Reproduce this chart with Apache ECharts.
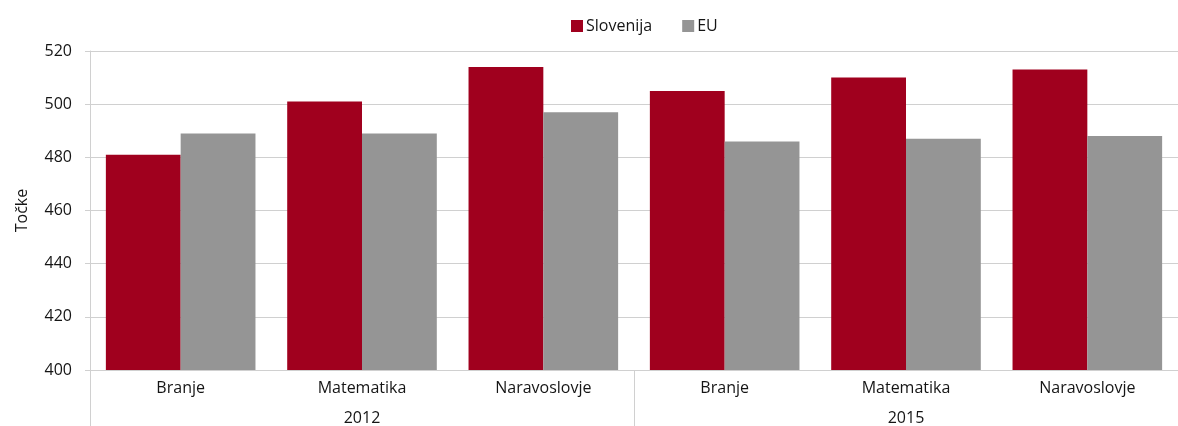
<!DOCTYPE html>
<html>
<head>
<meta charset="utf-8">
<script src="https://cdn.jsdelivr.net/npm/echarts@6/dist/echarts.min.js"></script>
<style>
html,body{margin:0;padding:0;background:#fff;}
#chart{width:1178px;height:426px;}
</style>
</head>
<body>
<div id="chart"></div>
<script>
var subjects = ['Branje','Matematika','Naravoslovje','Branje','Matematika','Naravoslovje'];
var years = ['2012','2015'];
var slovenija = [481, 501, 514, 505, 510, 513];
var eu = [489, 489, 497, 486, 487, 488];
var yTicks = {min: 400, max: 520, interval: 20};

var FONT = 'Open Sans';
var TXT = '#151515';
var chart = echarts.init(document.getElementById('chart'));
chart.setOption({
  animation: false,
  textStyle: {fontFamily: FONT},
  legend: {
    top: 13, left: 566,
    itemWidth: 12, itemHeight: 12, itemGap: 30,
    icon: 'rect',
    textStyle: {fontFamily: FONT, fontSize: 16, color: TXT, padding: [0,0,0,-2]},
    data: ['Slovenija','EU']
  },
  grid: {left: 90, top: 51, width: 1092, height: 319},
  xAxis: [{
    type: 'category',
    data: subjects,
    axisLine: {show: true, lineStyle: {color: '#d0d0d0', width: 1}},
    axisTick: {show: false},
    axisLabel: {fontFamily: FONT, fontSize: 16, color: TXT, margin: 10}
  }, {
    type: 'category',
    data: years,
    position: 'bottom',
    axisLine: {show: false},
    axisTick: {show: true, length: 56, lineStyle: {color: '#d0d0d0'}},
    axisLabel: {fontFamily: FONT, fontSize: 16, color: TXT, margin: 40},
    splitLine: {show: false}
  }],
  yAxis: {
    type: 'value',
    min: yTicks.min, max: yTicks.max, interval: yTicks.interval,
    name: 'Točke',
    nameLocation: 'middle',
    nameGap: 60,
    nameTextStyle: {fontFamily: FONT, fontSize: 16, color: TXT, padding: [0,0,0,0]},
    axisLine: {show: true, lineStyle: {color: '#d0d0d0'}},
    axisTick: {show: true, length: 5, lineStyle: {color: '#d0d0d0'}},
    axisLabel: {fontFamily: FONT, fontSize: 16, color: TXT, margin: 18},
    splitLine: {show: true, lineStyle: {color: '#d0d0d0', width: 1}}
  },
  series: [{
    name: 'Slovenija', type: 'bar', xAxisIndex: 0,
    data: slovenija,
    barGap: '0%', barCategoryGap: '17.5%',
    itemStyle: {color: '#A0001E'}
  }, {
    name: 'EU', type: 'bar', xAxisIndex: 0,
    data: eu,
    barGap: '0%', barCategoryGap: '17.5%',
    itemStyle: {color: '#959595'}
  }]
});
</script>
</body>
</html>
